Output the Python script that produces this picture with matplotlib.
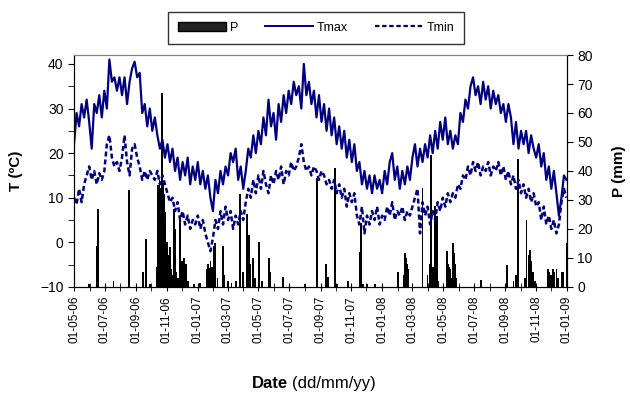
import numpy as np
import pandas as pd
import matplotlib
matplotlib.use('Agg')
import matplotlib.pyplot as plt
import matplotlib.dates as mdates
from matplotlib.patches import Patch
from matplotlib.lines import Line2D

plt.rcParams['font.family'] = ['Liberation Sans', 'DejaVu Sans']

# temperature readings, one value every 5 days starting 01-05-2006
t_start = '2006-05-01'
tmax = [22, 29, 26, 31, 28, 32, 27, 21, 31, 29,
        33, 28, 34, 30, 41, 36, 37, 34, 37, 33,
        37, 31, 36, 39, 40.5, 37, 38, 29, 31, 26,
        30, 25, 28, 24, 21, 23, 19, 22, 18, 21,
        16, 19, 14, 18, 15, 19, 13, 17, 14, 18,
        13, 16, 12, 15, 10, 7, 14, 11, 16, 13,
        17, 15, 20, 18, 21, 14, 17, 12, 16, 21,
        19, 24, 20, 25, 22, 28, 24, 32, 26, 29,
        23, 31, 27, 33, 29, 34, 31, 36, 33, 35,
        30, 40, 33, 36, 31, 34, 28, 33, 27, 31,
        25, 30, 24, 28, 22, 26, 21, 25, 19, 23,
        18, 22, 16, 18, 13, 16, 12, 15, 11, 15,
        12, 14, 11, 16, 13, 18, 20, 14, 17, 12,
        16, 13, 17, 14, 19, 22, 17, 21, 18, 22,
        19, 24, 20, 25, 21, 27, 23, 28, 22, 25,
        21, 24, 22, 29, 27, 32, 30, 35, 37, 33,
        35, 31, 36, 32, 35, 30, 34, 31, 33, 29,
        31, 27, 31, 28, 22, 27, 21, 25, 22, 25,
        20, 24, 21, 19, 22, 17, 20, 14, 17, 12,
        16, 11, 6, 10, 15, 14]
tmin = [10, 8.5, 12, 9, 13, 15, 17, 14, 16, 13,
        15.5, 14, 16, 22, 24, 19, 17, 18, 16, 19,
        24, 18, 15, 21, 22, 19, 17, 14, 16, 14,
        16, 15, 14, 16, 13, 15, 13, 11, 9, 10,
        7, 9, 5, 7, 4, 6, 3, 5, 4, 6,
        3, 5, 2, 0, -2, 1, 5, 3, 7, 4,
        8, 5, 7, 3, 6, 4, 7, 5, 9, 12,
        10, 14, 11, 15, 12, 16, 13, 11, 15, 13,
        16, 14, 17, 13, 16, 15, 18, 16, 17, 19,
        22, 18, 16, 17, 15, 17, 16, 14, 16, 15,
        13, 14, 12, 14, 11, 13, 10, 12, 8, 11,
        9, 11, 6, 4, 8, 2, 6, 4, 7, 5,
        8, 4, 6, 5, 8, 6, 9, 5, 7, 6,
        8, 5, 7, 6, 8, 10, 12, 2, 9, 6,
        8, 4, 7, 5, 9, 7, 10, 8, 11, 9,
        11, 10, 13, 12, 15, 14, 17, 15, 18, 16,
        18, 15, 17, 16, 18, 15, 17, 16, 18, 15,
        17, 14, 16, 13, 15, 12, 14, 11, 13, 10,
        12, 9, 11, 8, 9, 5, 8, 4, 6, 3,
        5, 2, 4, 9, 12, 10]

# rainfall: days after 01-05-2006 and amount (mm)
rain_day = [30, 46, 47, 48, 78, 109, 137, 142, 150, 164,
            167, 169, 171, 174, 176, 178, 180, 182, 184, 186,
            188, 190, 192, 194, 198, 200, 202, 206, 210, 214,
            218, 222, 226, 238, 250, 264, 266, 268, 270, 273,
            276, 279, 284, 295, 297, 305, 312, 320, 329, 335,
            343, 345, 347, 349, 355, 358, 366, 372, 386, 388,
            414, 457, 481, 490, 499, 503, 517, 520, 542, 566,
            568, 572, 580, 596, 641, 653, 655, 657, 659, 662,
            690, 700, 704, 706, 707, 710, 714, 719, 721, 738,
            740, 742, 744, 746, 750, 752, 754, 756, 806, 857,
            870, 875, 879, 893, 896, 900, 903, 905, 908, 912,
            939, 941, 944, 948, 951, 955, 958, 966, 969, 975]
rain_mm = [1, 14, 27, 17, 2, 33.5, 5, 16.5, 1, 7,
           35, 37, 34, 67, 36, 32, 26, 10, 15.5, 11,
           8, 13.7, 6, 4, 27, 20, 5, 3, 23, 9,
           10, 8, 2, 1, 1.5, 6, 8, 6.5, 9, 7,
           14, 15, 3, 14, 4, 2, 1.5, 2, 32, 5,
           25, 12, 18, 8, 10, 3, 15.5, 2, 10, 5,
           3.5, 1, 37.5, 1, 8, 3.5, 41, 1, 2, 12,
           22, 1, 1, 1, 5, 4, 11.7, 10, 8, 6,
           34, 4, 8, 28, 45.6, 7, 28, 24.4, 2, 12.3,
           8, 7, 6, 3, 15.2, 11.7, 8, 3, 2.3, 7.7,
           2, 4, 44, 3, 23, 11, 12.9, 9, 5, 2,
           6, 5, 4, 6, 5, 6, 3, 5, 5, 15]

t_dates = pd.date_range(t_start, periods=len(tmax), freq='5D')
tn_dates = pd.date_range(t_start, periods=len(tmin), freq='5D')
r_dates = pd.Timestamp(t_start) + pd.to_timedelta(rain_day, unit='D')

navy = '#000080'
tmin_dash = (0, (2, 1.2))

fig = plt.figure(figsize=(6.3, 3.93), dpi=100)
ax = fig.add_axes([0.1175, 0.27, 0.7825, 0.59])
ax2 = ax.twinx()

# bars behind, temperature lines in front
ax.set_zorder(ax2.get_zorder() + 1)
ax.patch.set_visible(False)

ax2.bar(r_dates, rain_mm, width=3.5, color='black', linewidth=0)
ax.plot(t_dates, tmax, color=navy, lw=1.6)
ax.plot(tn_dates, tmin, color=navy, lw=1.8, ls=tmin_dash)

ax.set_xlim(pd.Timestamp('2006-05-01'), pd.Timestamp('2009-01-01'))
ax.set_ylim(-10, 42)
ax2.set_ylim(0, 80)

ax.set_yticks(np.arange(-10, 41, 10))
ax.set_yticks(np.arange(-10, 41, 5), minor=True)
ax2.set_yticks(np.arange(0, 81, 10))
ax.tick_params(axis='y', which='both', direction='out', length=4, labelsize=10)
ax2.tick_params(axis='y', direction='out', length=4, labelsize=10)

ax.xaxis.set_major_locator(mdates.MonthLocator(bymonth=[1, 3, 5, 7, 9, 11]))
ax.xaxis.set_minor_locator(mdates.MonthLocator())
ax.xaxis.set_major_formatter(mdates.DateFormatter('%d-%m-%y'))
ax.tick_params(axis='x', which='both', direction='inout', length=6, labelsize=8.5,
               labelrotation=90)

for a in (ax, ax2):
    a.spines['top'].set_color('#808080')

ax.set_ylabel('T (ºC)', fontsize=11, fontweight='bold', labelpad=12)
ax2.set_ylabel('P (mm)', fontsize=11, fontweight='bold', labelpad=14)
fig.text(0.457, 0.013, 'Date', fontsize=12, fontweight='bold', ha='right')
fig.text(0.4635, 0.013, '(dd/mm/yy)', fontsize=12, ha='left')

handles = [Patch(facecolor='#222222', edgecolor='black'),
           Line2D([], [], color=navy, lw=1.4),
           Line2D([], [], color=navy, lw=1.6, ls=tmin_dash)]
leg = fig.legend(handles, ['P', 'Tmax', 'Tmin'], loc='center',
                 bbox_to_anchor=(0.502, 0.93), ncol=3, fontsize=9,
                 frameon=True, fancybox=False, handlelength=3.8,
                 columnspacing=2.2, handletextpad=0.3, borderpad=0.8)
leg.get_frame().set_edgecolor('black')
leg.get_frame().set_linewidth(1.0)

fig.savefig('out.png', dpi=100)
